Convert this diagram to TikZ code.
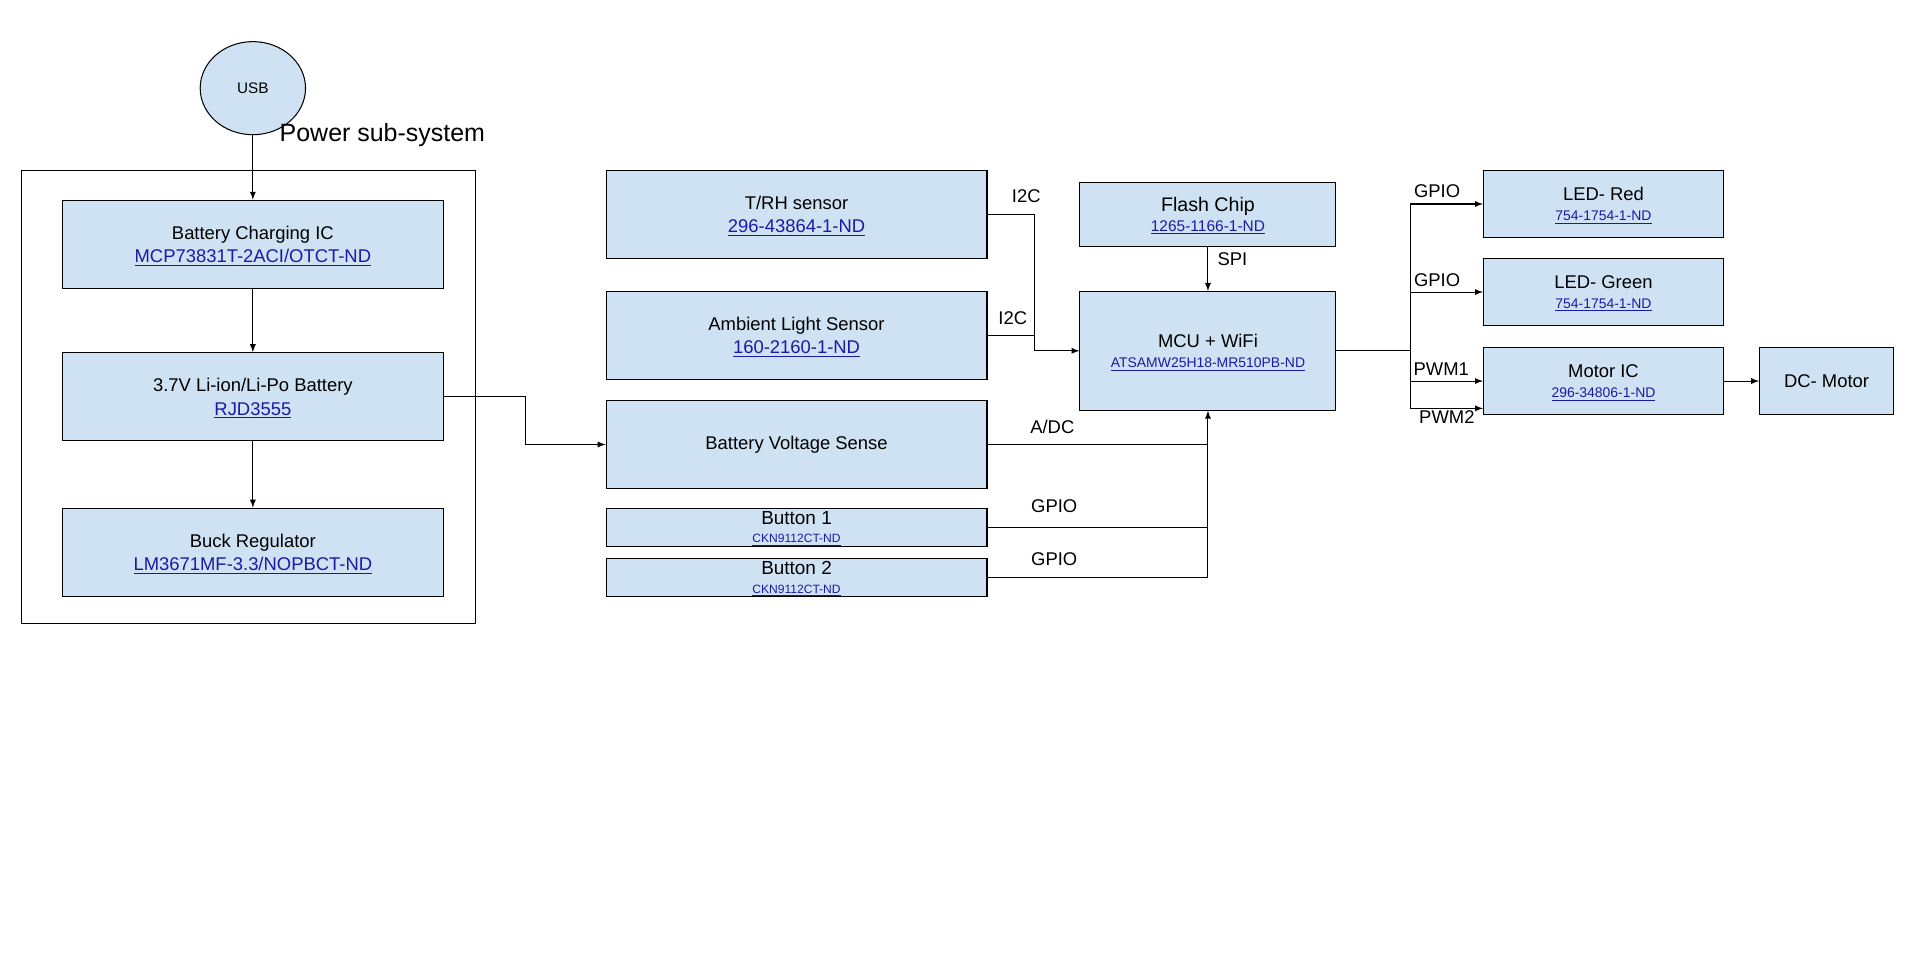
\documentclass[tikz,border=0pt]{standalone}
\usepackage{fontspec}
\setmainfont{Liberation Sans}
\usepackage{xcolor}
\usetikzlibrary{
    arrows,
    calc,
    positioning,
    shapes.geometric
}
\definecolor{boxblue}{HTML}{CFE2F3}
\definecolor{linkblue}{RGB}{26,26,166}
\newcommand{\partno}[1]{\textcolor{linkblue}{\raisebox{0pt}[\height][0pt]{\underline{#1}}}}
\newcommand{\smallpart}[1]{{\fontsize{8.1}{10}\selectfont\partno{#1}}}

\begin{document}
\begin{tikzpicture}[x=0.025cm, y=-0.025cm, line width=0.6pt, >=latex,
    block/.style={draw, fill=boxblue, align=center, inner sep=0pt,
        font=\fontsize{10.7}{13.5}\selectfont},
    wide/.style={block, minimum width=7.775cm, minimum height=1.8cm},
    thin/.style={block, minimum width=7.775cm, minimum height=0.775cm,
        font=\fontsize{11}{10.7}\selectfont},
    mid/.style={block, minimum width=5.225cm},
    part/.style={block, minimum width=4.9cm, minimum height=1.36cm,
        font=\fontsize{10.7}{11.4}\selectfont},
    sig/.style={anchor=west, inner sep=0pt, font=\fontsize{10.7}{13}\selectfont}]
    \useasboundingbox (0,0) rectangle (1568,784);
    % power sub-system
    \node[draw, minimum width=9.25cm, minimum height=9.25cm] (pwrbox) at (203, 324) {};
    \node[ellipse, draw, fill=boxblue, minimum width=2.15cm, minimum height=1.9cm,
        font=\fontsize{8.9}{11}\selectfont] (usb) at (206.5, 72) {USB};
    \node[sig, font=\fontsize{14.5}{17}\selectfont] (pwrtitle) at (228, 110) {Power sub-system};
    \node[wide] (chg) at (206.5, 199.5) {Battery Charging IC\\\partno{MCP73831T-2ACI/OTCT-ND}};
    \node[wide] (batt) at (206.5, 324) {3.7V Li-ion/Li-Po Battery\\\partno{RJD3555}};
    \node[wide] (buck) at (206.5, 451) {Buck Regulator\\\partno{LM3671MF-3.3/NOPBCT-ND}};
    % inputs
    \node[wide] (trh) at (650.5, 175) {T/RH sensor\\\partno{296-43864-1-ND}};
    \node[wide] (als) at (650.5, 274) {Ambient Light Sensor\\\partno{160-2160-1-ND}};
    \node[wide] (bvs) at (650.5, 363) {Battery Voltage Sense};
    \node[thin] (btn1) at (650.5, 430.5) {Button 1\\{\fontsize{7}{8}\selectfont\partno{CKN9112CT-ND}}};
    \node[thin] (btn2) at (650.5, 471.5) {Button 2\\{\fontsize{7}{8}\selectfont\partno{CKN9112CT-ND}}};
    % mcu
    \node[mid, minimum height=1.3cm, font=\fontsize{11.4}{11.4}\selectfont] (flash) at (986.5, 175)
        {Flash Chip\\{\fontsize{9}{10}\selectfont\partno{1265-1166-1-ND}}};
    \node[mid, minimum height=2.425cm, font=\fontsize{10.7}{11.4}\selectfont] (mcu) at (986.5, 286.5)
        {MCU + WiFi\\\smallpart{ATSAMW25H18-MR510PB-ND}};
    % outputs
    \node[part] (ledr) at (1309.5, 166.6) {LED- Red\\\smallpart{754-1754-1-ND}};
    \node[part] (ledg) at (1309.5, 238.5) {LED- Green\\\smallpart{754-1754-1-ND}};
    \node[part] (motic) at (1309.5, 311.2) {Motor IC\\\smallpart{296-34806-1-ND}};
    \node[block, minimum width=2.735cm, minimum height=1.36cm] (dcm) at (1491.7, 311.2) {DC- Motor};
    \coordinate (split) at ($(mcu.east)+(60.5,0)$);
    \coordinate (pwm2in) at ($(motic.west)+(0,22.3)$);
    % signal labels
    \node[sig] (lbli2ca) at (826, 160) {I2C};
    \node[sig] (lbli2cb) at (815, 260) {I2C};
    \node[sig] (lblspi) at (994, 211.5) {SPI};
    \node[sig] (lbladc) at (841, 349) {A/DC};
    \node[sig] (lblbtna) at (841.7, 413) {GPIO};
    \node[sig] (lblbtnb) at (841.7, 457) {GPIO};
    \node[sig] (lblledr) at (1154.4, 156.5) {GPIO};
    \node[sig] (lblledg) at (1154.4, 228.7) {GPIO};
    \node[sig] (lblpwma) at (1154, 301.4) {PWM1};
    \node[sig] (lblpwmb) at (1158.6, 341) {PWM2};
    \draw[->] (usb) -- (chg);
    \draw[->] (chg) -- (batt);
    \draw[->] (batt) -- (buck);
    \draw[->] (batt.east) -- ++(67, 0) |- (bvs.west);
    \draw[->] (trh.east) -- ++(38, 0) |- (mcu.west);
    \draw (als.east) -- ++(38, 0);
    \draw[->] (flash) -- (mcu);
    \draw[->] (btn2.east) -| (mcu.south);
    \draw (bvs.east) -- (bvs.east -| mcu.south);
    \draw (btn1.east) -- (btn1.east -| mcu.south);
    \draw (mcu.east) -- (split);
    \draw[->] (split) |- (ledr.west);
    \draw[->] (split) |- (ledg.west);
    \draw[->] (split) |- (motic.west);
    \draw[->] (split) |- (pwm2in);
    \draw[->] (motic) -- (dcm);
\end{tikzpicture}
\end{document}
